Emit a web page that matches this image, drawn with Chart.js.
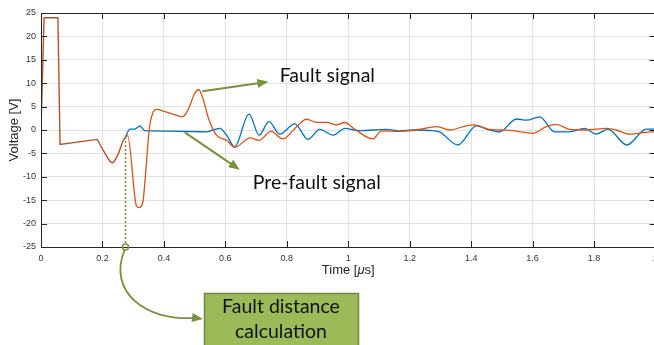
<!DOCTYPE html>
<html>
<head>
<meta charset="utf-8">
<script src="https://cdn.jsdelivr.net/npm/chart.js@4.4.1/dist/chart.umd.min.js"></script>
<style>
html, body { margin: 0; padding: 0; background: #fff; overflow: hidden; }
#wrap { position: relative; width: 664px; height: 345px; }
</style>
</head>
<body>
<div id="wrap"><canvas id="voltchart"></canvas></div>
<script>
// shared part (both signals identical before the fault arrives)
const pulseTime = [0, 0.003, 0.01, 0.055, 0.062, 0.183];
const pulseVolt = [0, 0, 24, 24, -3.1, -2.0];
const dipTime = [0.183, 0.205, 0.232, 0.252, 0.268, 0.275];
const dipVolt = [-2.0, -4.6, -7.0, -5.0, -2.2, -1.5];

// pre-fault signal (blue)
const preTime = [0.275, 0.289, 0.305, 0.322, 0.338, 0.36, 0.45, 0.5, 0.539, 0.56, 0.582, 0.604, 0.63,
  0.677, 0.71, 0.742, 0.777, 0.826, 0.869, 0.907, 0.951, 0.989, 1.037, 1.124, 1.167, 1.21, 1.275,
  1.297, 1.357, 1.417, 1.455, 1.493, 1.547, 1.58, 1.623, 1.672, 1.72, 1.769, 1.807, 1.845, 1.907, 1.97, 2.0];
const preVolt = [-1.5, 0.2, 0.2, 0.85, -0.15, -0.2, -0.3, -0.35, -0.4, 0.0, 0.35, -1.1, -3.6,
  3.4, -1.1, 1.8, -0.9, 1.3, -2.0, 0.15, -1.1, 0.35, -0.15, 0.15, -0.2, 0, -0.15,
  -0.4, -3.2, 0.9, 0.1, -0.4, 2.35, 2.1, 2.8, -0.4, -0.4, 0.35, -0.9, 0.2, -3.2, 0.2, 0.2];

// fault signal (orange)
const faultTime = [0.275, 0.282, 0.311, 0.319, 0.331, 0.342, 0.352, 0.363, 0.376, 0.4, 0.43, 0.461, 0.48,
  0.5, 0.514, 0.528, 0.545, 0.571, 0.604, 0.631, 0.68, 0.71, 0.748, 0.788, 0.832, 0.864, 0.897, 0.929,
  0.962, 0.989, 1.021, 1.081, 1.108, 1.167, 1.22, 1.29, 1.33, 1.384, 1.411, 1.455, 1.5, 1.536, 1.6,
  1.645, 1.677, 1.72, 1.775, 1.84, 1.872, 1.915, 1.959, 2.0];
const faultVolt = [-1.5, -1.2, -16.3, -16.6, -15.6, -8, 0, 3.5, 4.4, 4.0, 3.4, 2.85, 4.5,
  7.8, 8.6, 6.5, 2.5, -1.1, -2.2, -3.7, -1.7, -2.2, -0.3, -1.9, 0.7, 2.3, 1.65, 1.65,
  1.1, 1.6, 0.15, -1.9, -0.2, -0.3, 0, 0.7, 0, 0.9, 1.1, 0.2, 0, -0.15, -0.7,
  0.7, 1.2, 0.15, 0, 0.35, 0, -0.9, -0.55, -0.3];

const xTicks = [0, 0.2, 0.4, 0.6, 0.8, 1, 1.2, 1.4, 1.6, 1.8, 2];
const xTickLabels = ['0', '0.2', '0.4', '0.6', '0.8', '1', '1.2', '1.4', '1.6', '1.8', '2'];
const yTicks = [-25, -20, -15, -10, -5, 0, 5, 10, 15, 20, 25];
const yTickLabels = ['-25', '-20', '-15', '-10', '-5', '0', '5', '10', '15', '20', '25'];

const faultStart = 0.275; // where the two signals split
const faultStartVolt = -1.5;

function pts(t, v) {
  return t.map((x, i) => ({ x: x, y: v[i] }));
}

const green = '#76923c';

function arrow(ctx, x1, y1, x2, y2) {
  const a = Math.atan2(y2 - y1, x2 - x1);
  const len = 11, hw = 4.5;
  ctx.beginPath();
  ctx.moveTo(x1, y1);
  ctx.lineTo(x2 - Math.cos(a) * len * 0.8, y2 - Math.sin(a) * len * 0.8);
  ctx.stroke();
  ctx.beginPath();
  ctx.moveTo(x2, y2);
  ctx.lineTo(x2 - Math.cos(a) * len - Math.sin(a) * hw, y2 - Math.sin(a) * len + Math.cos(a) * hw);
  ctx.lineTo(x2 - Math.cos(a) * len + Math.sin(a) * hw, y2 - Math.sin(a) * len - Math.cos(a) * hw);
  ctx.closePath();
  ctx.fill();
}

const matlabBox = {
  id: 'matlabBox',
  afterDraw(chart) {
    const ctx = chart.ctx;
    const a = chart.chartArea;
    const xs = chart.scales.x, ys = chart.scales.y;
    ctx.save();

    // box and inward ticks
    ctx.strokeStyle = '#262626';
    ctx.lineWidth = 1;
    ctx.strokeRect(Math.round(a.left) + 0.5, Math.round(a.top) + 0.5, Math.round(a.right - a.left), Math.round(a.bottom - a.top));
    ctx.beginPath();
    xTicks.forEach(v => {
      const px = Math.round(xs.getPixelForValue(v)) + 0.5;
      ctx.moveTo(px, a.bottom); ctx.lineTo(px, a.bottom - 6);
      ctx.moveTo(px, a.top); ctx.lineTo(px, a.top + 6);
    });
    yTicks.forEach(v => {
      const py = Math.round(ys.getPixelForValue(v)) + 0.5;
      ctx.moveTo(a.left, py); ctx.lineTo(a.left + 6, py);
      ctx.moveTo(a.right, py); ctx.lineTo(a.right - 6, py);
    });
    ctx.stroke();

    // axis titles
    ctx.fillStyle = '#262626';
    ctx.textBaseline = 'middle';
    const tx = (a.left + a.right) / 2;
    const ty = a.bottom + 23;
    const parts = [['Time [', 'normal'], ['\u03bc', 'italic'], ['s]', 'normal']];
    let w = 0;
    parts.forEach(p => { ctx.font = p[1] + ' 13px "Liberation Sans", Arial, sans-serif'; w += ctx.measureText(p[0]).width; });
    let cx = tx - w / 2;
    ctx.textAlign = 'left';
    parts.forEach(p => {
      ctx.font = p[1] + ' 13px "Liberation Sans", Arial, sans-serif';
      ctx.fillText(p[0], cx, ty);
      cx += ctx.measureText(p[0]).width;
    });
    ctx.save();
    ctx.translate(14, (a.top + a.bottom) / 2);
    ctx.rotate(-Math.PI / 2);
    ctx.textAlign = 'center';
    ctx.font = '13px "Liberation Sans", Arial, sans-serif';
    ctx.fillText('Voltage [V]', 0, 0);
    ctx.restore();

    // annotations
    ctx.strokeStyle = green;
    ctx.fillStyle = green;
    ctx.lineWidth = 2;
    arrow(ctx, xs.getPixelForValue(0.525), ys.getPixelForValue(8.3), xs.getPixelForValue(0.74), ys.getPixelForValue(10.3));
    arrow(ctx, xs.getPixelForValue(0.468), ys.getPixelForValue(-0.5), xs.getPixelForValue(0.647), ys.getPixelForValue(-8.5));

    ctx.fillStyle = '#111';
    ctx.font = '19.5px Lato, "Open Sans", sans-serif';
    ctx.textAlign = 'left';
    ctx.fillText('Fault signal', xs.getPixelForValue(0.777), ys.getPixelForValue(11.7));
    ctx.fillText('Pre-fault signal', xs.getPixelForValue(0.689), ys.getPixelForValue(-11.3));

    // dotted marker at the fault arrival
    const fx = xs.getPixelForValue(faultStart);
    ctx.strokeStyle = green;
    ctx.lineWidth = 1.5;
    ctx.setLineDash([2, 2]);
    ctx.beginPath();
    ctx.moveTo(fx, ys.getPixelForValue(faultStartVolt));
    ctx.lineTo(fx, a.bottom - 3);
    ctx.stroke();
    ctx.setLineDash([]);
    ctx.beginPath();
    ctx.arc(fx, a.bottom, 3, 0, Math.PI * 2);
    ctx.stroke();

    // curved arrow to the box
    const ex = 203, ey = 319;
    ctx.lineWidth = 1.8;
    ctx.beginPath();
    ctx.moveTo(fx - 1, a.bottom + 3);
    ctx.bezierCurveTo(fx - 18, a.bottom + 45, fx + 20, ey + 2, ex - 9, ey - 1);
    ctx.stroke();
    ctx.fillStyle = green;
    arrow(ctx, ex - 10, ey - 1.3, ex, ey);

    // box
    ctx.fillStyle = '#9bbb59';
    ctx.strokeStyle = '#71893f';
    ctx.lineWidth = 1.5;
    ctx.fillRect(204, 293, 155, 60);
    ctx.strokeRect(204.5, 293.5, 154, 60);
    ctx.fillStyle = '#111';
    ctx.textAlign = 'center';
    ctx.font = '19.5px Lato, "Open Sans", sans-serif';
    ctx.fillText('Fault distance', 281, 307);
    ctx.fillText('calculation', 281, 332);

    ctx.restore();
  }
};

new Chart(document.getElementById('voltchart'), {
  type: 'line',
  data: {
    datasets: [
      { data: pts(pulseTime, pulseVolt), borderColor: '#b0532a', borderWidth: 1.4, tension: 0, order: 0 },
      { data: pts(dipTime, dipVolt), borderColor: '#b0532a', borderWidth: 1.4, cubicInterpolationMode: 'monotone', order: 0 },
      { data: pts(faultTime, faultVolt), borderColor: '#d95319', borderWidth: 1.3, cubicInterpolationMode: 'monotone', order: 1 },
      { data: pts(preTime, preVolt), borderColor: '#0072bd', borderWidth: 1.3, cubicInterpolationMode: 'monotone', order: 2 }
    ]
  },
  options: {
    responsive: true,
    maintainAspectRatio: false,
    animation: false,
    events: [],
    layout: { padding: { top: 13, right: 8, bottom: 67, left: 0 } },
    elements: { point: { radius: 0 } },
    plugins: { legend: { display: false }, tooltip: { enabled: false } },
    scales: {
      x: {
        type: 'linear',
        min: 0, max: 2,
        afterBuildTicks: s => { s.ticks = xTicks.map(v => ({ value: v })); },
        afterFit: s => { s.height = 31; },
        ticks: {
          callback: (v, i) => xTickLabels[i],
          color: '#333', padding: 6, maxRotation: 0,
          font: { family: '"Liberation Sans", Arial, sans-serif', size: 9 }
        },
        grid: { color: '#e2e2e2', drawTicks: false },
        border: { display: false }
      },
      y: {
        min: -25, max: 25,
        afterBuildTicks: s => { s.ticks = yTicks.map(v => ({ value: v })); },
        afterFit: s => { s.width = 41; },
        ticks: {
          callback: (v, i) => yTickLabels[i],
          color: '#333', padding: 5,
          font: { family: '"Liberation Sans", Arial, sans-serif', size: 9 }
        },
        grid: { color: '#e2e2e2', drawTicks: false },
        border: { display: false }
      }
    }
  },
  plugins: [matlabBox]
});
</script>
</body>
</html>
